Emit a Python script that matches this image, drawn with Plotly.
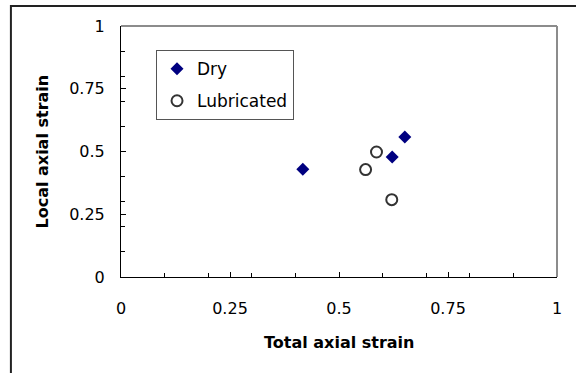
import plotly.graph_objects as go

dry_x = [0.417, 0.622, 0.651]
dry_y = [0.429, 0.478, 0.558]
lub_x = [0.561, 0.586, 0.621]
lub_y = [0.428, 0.498, 0.308]

tick_vals = [0, 0.25, 0.5, 0.75, 1]
tick_text = ["0", "0.25", "0.5", "0.75", "1"]

FONT = "DejaVu Sans, Arial, sans-serif"

fig = go.Figure()
fig.add_trace(go.Scatter(
    x=dry_x, y=dry_y, mode="markers", name="Dry", legendgroup="a",
    marker=dict(symbol="diamond", size=10, color="#000080", line=dict(width=0)),
))
fig.add_trace(go.Scatter(
    x=lub_x, y=lub_y, mode="markers", name="Lubricated", legendgroup="b",
    marker=dict(symbol="circle-open", size=11, color="#333333", line=dict(width=2, color="#333333")),
))

axis_common = dict(
    range=[0, 1], tickvals=tick_vals, ticktext=tick_text,
    showgrid=False, zeroline=False, showline=True, linecolor="black", linewidth=1,
    ticks="inside", ticklen=5, tickcolor="black", tickwidth=1,
    minor=dict(dtick=0.1, ticks="inside", ticklen=4, tickcolor="black", tickwidth=1, showgrid=False),
    tickfont=dict(family=FONT, size=16, color="black"),
    fixedrange=True,
)

fig.update_layout(
    width=576, height=373,
    margin=dict(l=121, r=19, t=26, b=96),
    paper_bgcolor="white", plot_bgcolor="white",
    font=dict(family=FONT, color="black"),
    xaxis=dict(**axis_common, ticklabelstandoff=17),
    yaxis=dict(**axis_common, ticklabelstandoff=12),
    showlegend=True,
    legend=dict(
        x=(156 - 121) / 435.7, y=0.904, xanchor="left", yanchor="top",
        bordercolor="#555555", borderwidth=1, bgcolor="white",
        font=dict(family=FONT, size=17, color="black"),
        tracegroupgap=7, itemwidth=30,
    ),
    shapes=[
        # plot-area border (top and right, gray)
        dict(type="line", xref="paper", yref="paper", x0=0, x1=1, y0=1, y1=1,
             line=dict(color="#8c8c8c", width=2)),
        dict(type="line", xref="paper", yref="paper", x0=1, x1=1, y0=0, y1=1,
             line=dict(color="#8c8c8c", width=2)),
        # outer chart frame
        dict(type="rect", xref="paper", yref="paper", x0=-0.2525, x1=2, y0=-2, y1=1.0797,
             line=dict(color="#222222", width=2), layer="above"),
    ],
    annotations=[
        dict(text="<b>Total axial strain</b>", xref="paper", yref="paper", x=0.5, y=0,
             xanchor="center", yanchor="middle", yshift=-65, showarrow=False,
             font=dict(family=FONT, size=16, color="black")),
        dict(text="<b>Local axial strain</b>", xref="paper", yref="paper", x=0, y=0.5,
             xanchor="center", yanchor="middle", xshift=-79, textangle=-90, showarrow=False,
             font=dict(family=FONT, size=16, color="black")),
    ],
)

fig.write_html("out.html")
